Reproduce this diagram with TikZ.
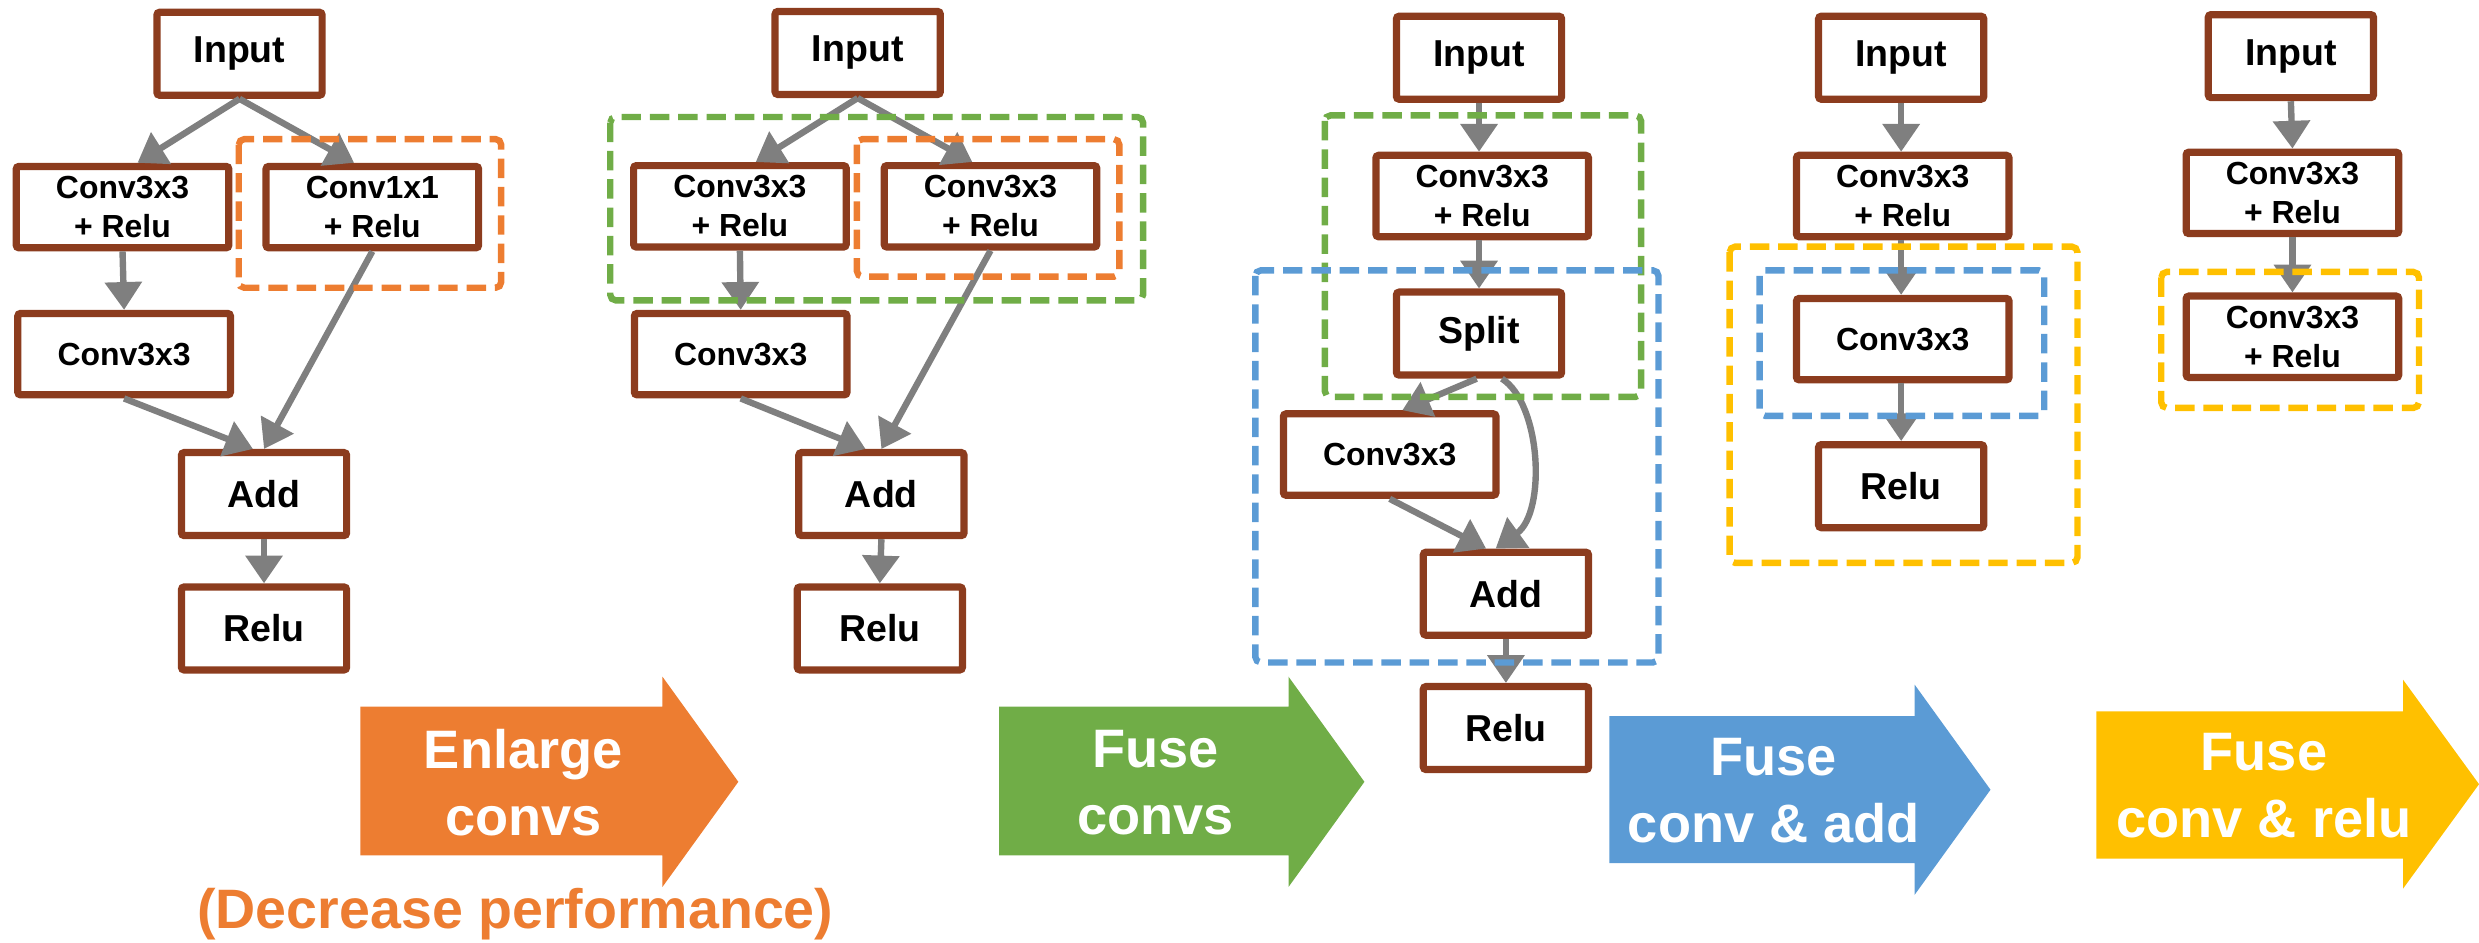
\documentclass[tikz,border=0pt]{standalone}
\usepackage{fontspec}
\setmainfont{Liberation Sans}
\usetikzlibrary{arrows.meta,calc}
\definecolor{brn}{RGB}{140,60,30}
\definecolor{gry}{RGB}{127,127,127}
\definecolor{org}{RGB}{237,125,49}
\definecolor{grn}{RGB}{112,173,71}
\definecolor{blu}{RGB}{91,155,213}
\definecolor{ylw}{RGB}{255,192,0}
\begin{document}
\begin{tikzpicture}[x=0.02cm,y=-0.02cm,
 box/.style={draw=brn,line width=2.6pt,fill=white,rounded corners=1pt,inner sep=0pt,align=center},
 wbox/.style={box,minimum width=2.69cm,minimum height=1.03cm,font=\bfseries\fontsize{11.5}{14}\selectfont},
 nbox/.style={box,minimum width=2.09cm,minimum height=1.05cm,font=\bfseries\fontsize{13.5}{16}\selectfont},
 con/.style={draw=gry,line width=2.3pt,-{Triangle[width=13pt,length=10pt]}},
 grp/.style={line width=2.3pt,dash pattern=on 7pt off 3.2pt,rounded corners=2pt},
 atext/.style={text=white,font=\bfseries\fontsize{19.5}{24}\selectfont,align=center}
]
\useasboundingbox (0,0) rectangle (1568,596);

% ---------- Panel 1 ----------
\node[nbox] (in1) at (151.5,34) {Input};
\node[wbox] (a1) at (77.5,131) {Conv3x3\\+ Relu};
\node[wbox] (b1) at (235.5,131) {Conv1x1\\+ Relu};
\node[wbox] (c1) at (78.5,224) {Conv3x3};
\node[nbox] (add1) at (167,312.5) {Add};
\node[nbox] (relu1) at (167,397.5) {Relu};
\draw[con] (in1.south) -- ([xshift=0.19cm]a1.north);
\draw[con] (in1.south) -- ([xshift=-0.23cm]b1.north);
\draw[con] (a1.south) -- (c1.north);
\draw[con] (c1.south) -- ([xshift=-0.14cm]add1.north);
\draw[con] (b1.south) -- (add1.north);
\draw[con] (add1.south) -- (relu1.north);
\draw[grp,draw=org] (151,88) rectangle (317,182);

% ---------- Panel 2 ----------
\node[nbox] (in2) at (542.5,33.5) {Input};
\node[wbox] (a2) at (468,130.5) {Conv3x3\\+ Relu};
\node[wbox] (b2) at (626.5,130.5) {Conv3x3\\+ Relu};
\node[wbox] (c2) at (468.5,224) {Conv3x3};
\node[nbox] (add2) at (557.5,312.5) {Add};
\node[nbox] (relu2) at (556.5,397.5) {Relu};
\draw[con] (in2.south) -- ([xshift=0.2cm]a2.north);
\draw[con] (in2.south) -- ([xshift=-0.23cm]b2.north);
\draw[con] (a2.south) -- (c2.north);
\draw[con] (c2.south) -- ([xshift=-0.2cm]add2.north);
\draw[con] (b2.south) -- (add2.north);
\draw[con] (add2.south) -- (relu2.north);
\draw[grp,draw=org] (542,88) rectangle (708,175);
\draw[grp,draw=grn] (386,74) rectangle (723,190);

% ---------- Panel 3 ----------
\node[nbox] (in3) at (935.5,36.5) {Input};
\node[wbox] (a3) at (937.5,124) {Conv3x3\\+ Relu};
\node[nbox] (split) at (935.5,211) {Split};
\node[wbox] (c3) at (879,287.5) {Conv3x3};
\node[nbox] (add3) at (952.5,375.5) {Add};
\node[nbox] (relu3) at (952.5,460.5) {Relu};
\draw[con] (in3.south) -- (a3.north -| in3.south);
\draw[con] (a3.south -| in3.south) -- (split.north);
\draw[con] ([xshift=-0.03cm]split.south) -- ([xshift=0.16cm]c3.north);
\draw[con] ([xshift=0.29cm]split.south) .. controls +(25,16) and +(32,-23) .. ([xshift=-0.13cm]add3.north);
\draw[con] (c3.south) -- ([xshift=-0.25cm]add3.north);
\draw[con] (add3.south) -- (relu3.north);
\draw[grp,draw=grn] (838,73) rectangle (1038,251);
\draw[grp,draw=blu] (794,171) rectangle (1049,419);

% ---------- Panel 4 ----------
\node[nbox] (in4) at (1202.5,36.5) {Input};
\node[wbox] (a4) at (1203.5,124) {Conv3x3\\+ Relu};
\node[wbox] (c4) at (1203.5,214.5) {Conv3x3};
\node[nbox] (relu4) at (1202.5,307.5) {Relu};
\draw[con] (in4.south) -- (a4.north -| in4.south);
\draw[con] (a4.south -| in4.south) -- (c4.north -| in4.south);
\draw[con] (c4.south -| in4.south) -- (relu4.north);
\draw[grp,draw=ylw] (1094,156) rectangle (1314,356);
\draw[grp,draw=blu] (1113,171) rectangle (1293,263);

% ---------- Panel 5 ----------
\node[nbox] (in5) at (1449,35.5) {Input};
\node[wbox] (a5) at (1450,122) {Conv3x3\\+ Relu};
\node[wbox] (b5) at (1450,213) {Conv3x3\\+ Relu};
\draw[con] (in5.south) -- (a5.north);
\draw[con] (a5.south) -- (b5.north);
\draw[grp,draw=ylw] (1367,172) rectangle (1530,258);

% ---------- Big arrows ----------
\fill[org] (228,447) -- (419,447) -- (419,428) -- (467,494.5) -- (419,561) -- (419,541) -- (228,541) -- cycle;
\node[atext] (t1) at (331,495) {Enlarge\\convs};
\node[text=org,font=\bfseries\fontsize{20}{24}\selectfont] (dp) at (326,578) {(Decrease performance)};

\fill[grn] (632,447) -- (815,447) -- (815,428) -- (863,494.5) -- (815,561) -- (815,541) -- (632,541) -- cycle;
\node[atext] (t2) at (731,495) {Fuse\\convs};

\fill[blu] (1018,453) -- (1211,453) -- (1211,433) -- (1259,499.5) -- (1211,566) -- (1211,546) -- (1018,546) -- cycle;
\node[atext] (t3) at (1122,500) {Fuse\\conv \& add};

\fill[ylw] (1326,450) -- (1520,450) -- (1520,430) -- (1568,496) -- (1520,562) -- (1520,543) -- (1326,543) -- cycle;
\node[atext] (t4) at (1432,497) {Fuse\\conv \& relu};
\end{tikzpicture}
\end{document}
